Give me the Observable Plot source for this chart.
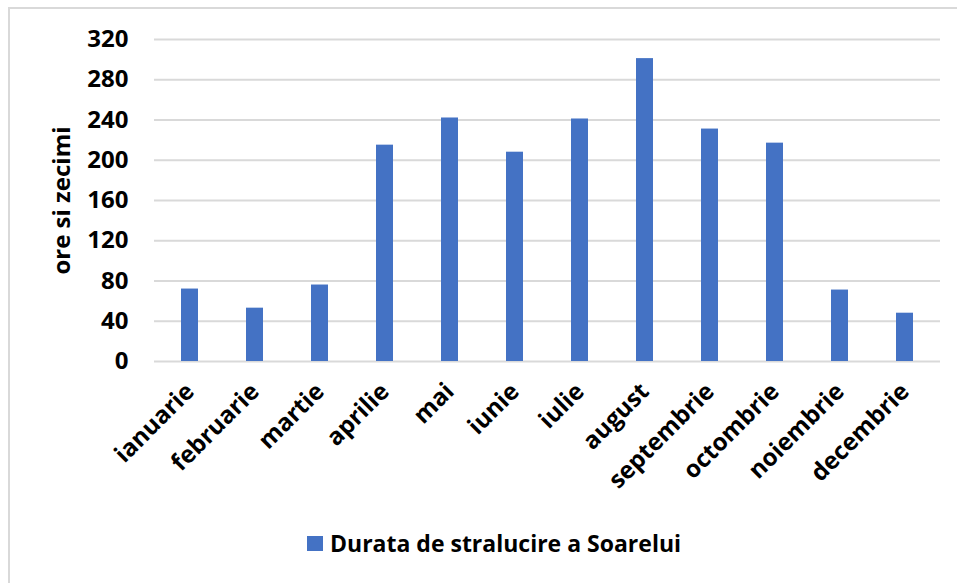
<!DOCTYPE html>
<html>
<head>
<meta charset="utf-8">
<script src="https://cdn.jsdelivr.net/npm/d3@7"></script>
<script src="https://cdn.jsdelivr.net/npm/@observablehq/plot@0.6"></script>
<style>
  html, body { margin: 0; padding: 0; background: #fff; overflow: hidden; }
  #wrap { position: relative; width: 957px; height: 583px; font-family: "Open Sans", sans-serif; }
  #frame { position: absolute; left: 8px; top: 7px; width: 1000px; height: 700px; border-left: 2px solid #d9d9d9; border-top: 2px solid #d9d9d9; box-sizing: border-box; }
  #chart { position: absolute; left: 0; top: 0; }
  #legend { position: absolute; left: 307px; top: 527px; display: flex; align-items: center; font-weight: 700; font-size: 23px; color: #000; white-space: nowrap; }
  #legend .sw { width: 16px; height: 15px; background: #4472C4; margin-right: 7px; }
</style>
</head>
<body>
<div id="wrap">
  <div id="frame"></div>
  <div id="chart"></div>
  <div id="legend"></div>
</div>
<script>
const months = ["ianuarie", "februarie", "martie", "aprilie", "mai", "iunie", "iulie", "august", "septembrie", "octombrie", "noiembrie", "decembrie"];
const hours = [72, 53, 76, 215, 242, 208, 241, 301, 231, 217, 71, 48];
const yTicks = [0, 40, 80, 120, 160, 200, 240, 280, 320];
const yTitle = "ore si zecimi";
const seriesName = "Durata de stralucire a Soarelui";
const barColor = "#4472C4";

const data = months.map((m, i) => ({month: m, value: hours[i]}));

const chart = Plot.plot({
  width: 957,
  height: 500,
  marginLeft: 154,
  marginRight: 17,
  marginTop: 39,
  marginBottom: 139,
  style: {fontFamily: "'Open Sans', sans-serif", fontWeight: 700, fontSize: "24px", color: "#000", background: "transparent", overflow: "visible"},
  x: {domain: months, paddingInner: 0.745, paddingOuter: 0.3725, label: null},
  y: {domain: [0, 320], label: null},
  marks: [
    Plot.gridY(yTicks, {stroke: "#d9d9d9", strokeOpacity: 1, strokeWidth: 2}),
    Plot.barY(data, {x: "month", y: "value", fill: barColor}),
    Plot.axisY(yTicks, {tickSize: 0, tickPadding: 26, fontSize: 24, label: yTitle, labelAnchor: "center", labelArrow: "none", labelOffset: 102}),
    Plot.axisX({tickSize: 0, tickRotate: -45, tickPadding: 26, fontSize: 24, label: null})
  ]
});
document.getElementById("chart").appendChild(chart);

const lg = document.getElementById("legend");
const sw = document.createElement("div");
sw.className = "sw";
lg.appendChild(sw);
const t = document.createElement("span");
t.textContent = seriesName;
lg.appendChild(t);
</script>
</body>
</html>
